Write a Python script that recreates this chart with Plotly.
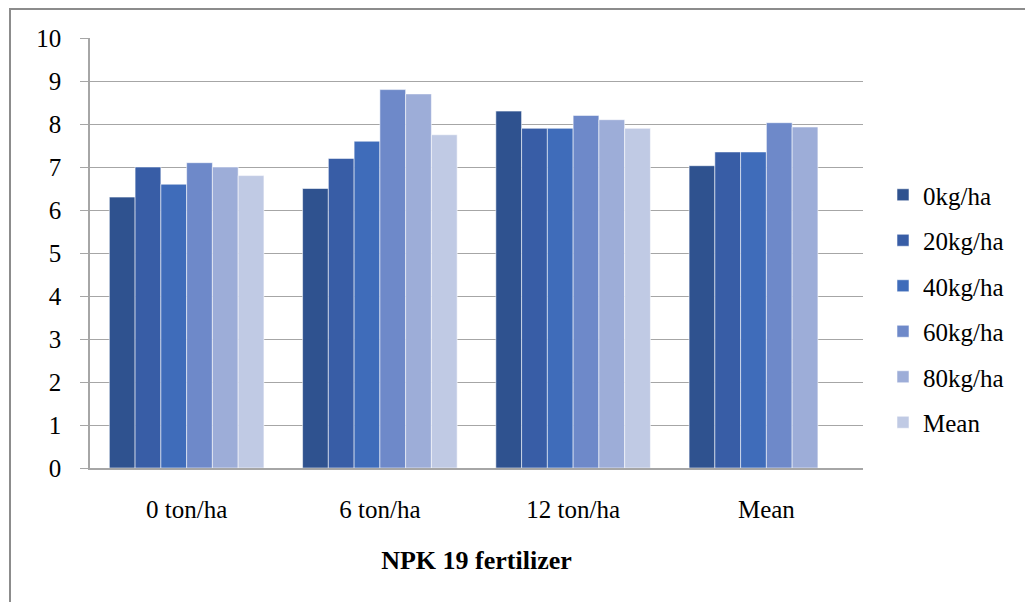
import plotly.graph_objects as go

categories = ["0 ton/ha", "6 ton/ha", "12 ton/ha", "Mean"]
series_names = ["0kg/ha", "20kg/ha", "40kg/ha", "60kg/ha", "80kg/ha", "Mean"]
v_0 = [6.3, 6.5, 8.3, 7.03]
v_20 = [7.0, 7.2, 7.9, 7.35]
v_40 = [6.6, 7.6, 7.9, 7.35]
v_60 = [7.1, 8.8, 8.2, 8.03]
v_80 = [7.0, 8.7, 8.1, 7.93]
v_mean = [6.8, 7.75, 7.9, None]
y_ticks = [0, 1, 2, 3, 4, 5, 6, 7, 8, 9, 10]
x_title = "NPK 19 fertilizer"

colors = ["#2F528F", "#385DA6", "#3F6CBA", "#6E89C9", "#9DADD8", "#C0CAE4"]
values = [v_0, v_20, v_40, v_60, v_80, v_mean]

FONT = "Liberation Serif"
FS = 25
L, R, T, B = 90, 162, 38, 134
W, H = 1025, 602
pw, ph = W - L - R, H - T - B

fig = go.Figure()
for name, vals, col in zip(series_names, values, colors):
    fig.add_trace(go.Bar(
        x=categories, y=vals, name=name, legendgroup=name,
        marker=dict(color=col, line=dict(color="rgba(255,255,255,0.55)", width=1)),
    ))

def px2x(p):
    return (p - L) / pw

def py2y(p):
    return (H - B - p) / ph

fig.update_layout(
    width=W, height=H,
    margin=dict(l=L, r=R, t=T, b=B, autoexpand=False),
    paper_bgcolor="white", plot_bgcolor="white",
    barmode="group", bargap=0.2, bargroupgap=0,
    font=dict(family=FONT, size=FS, color="black"),
    showlegend=True,
    legend=dict(
        x=px2x(883), xanchor="left", y=py2y(172), yanchor="top",
        font=dict(family=FONT, size=FS, color="black"),
        tracegroupgap=10, bgcolor="rgba(0,0,0,0)",
    ),
    xaxis=dict(
        showgrid=False, showline=True, linecolor="#A6A6A6", linewidth=1.5,
        ticks="", ticklabelstandoff=18,
        tickfont=dict(family=FONT, size=FS, color="black"),
        title=dict(text="<b>" + x_title + "</b>", standoff=29,
                   font=dict(family=FONT, size=26, color="black")),
    ),
    yaxis=dict(
        range=[0, 10], tickvals=y_ticks, ticktext=[str(t) for t in y_ticks],
        showgrid=True, gridcolor="#A6A6A6", gridwidth=1.3,
        showline=True, linecolor="#A6A6A6", linewidth=1.5,
        ticks="outside", ticklen=8, tickcolor="#A6A6A6", tickwidth=1.3,
        ticklabelstandoff=14,
        tickfont=dict(family=FONT, size=FS, color="black"),
        zeroline=False,
    ),
    shapes=[dict(
        type="rect", xref="paper", yref="paper",
        x0=px2x(10), x1=px2x(1100), y0=py2y(700), y1=py2y(9),
        line=dict(color="#8C8C8C", width=2), fillcolor="rgba(0,0,0,0)", layer="below",
    )],
)

fig.write_html("out.html")
